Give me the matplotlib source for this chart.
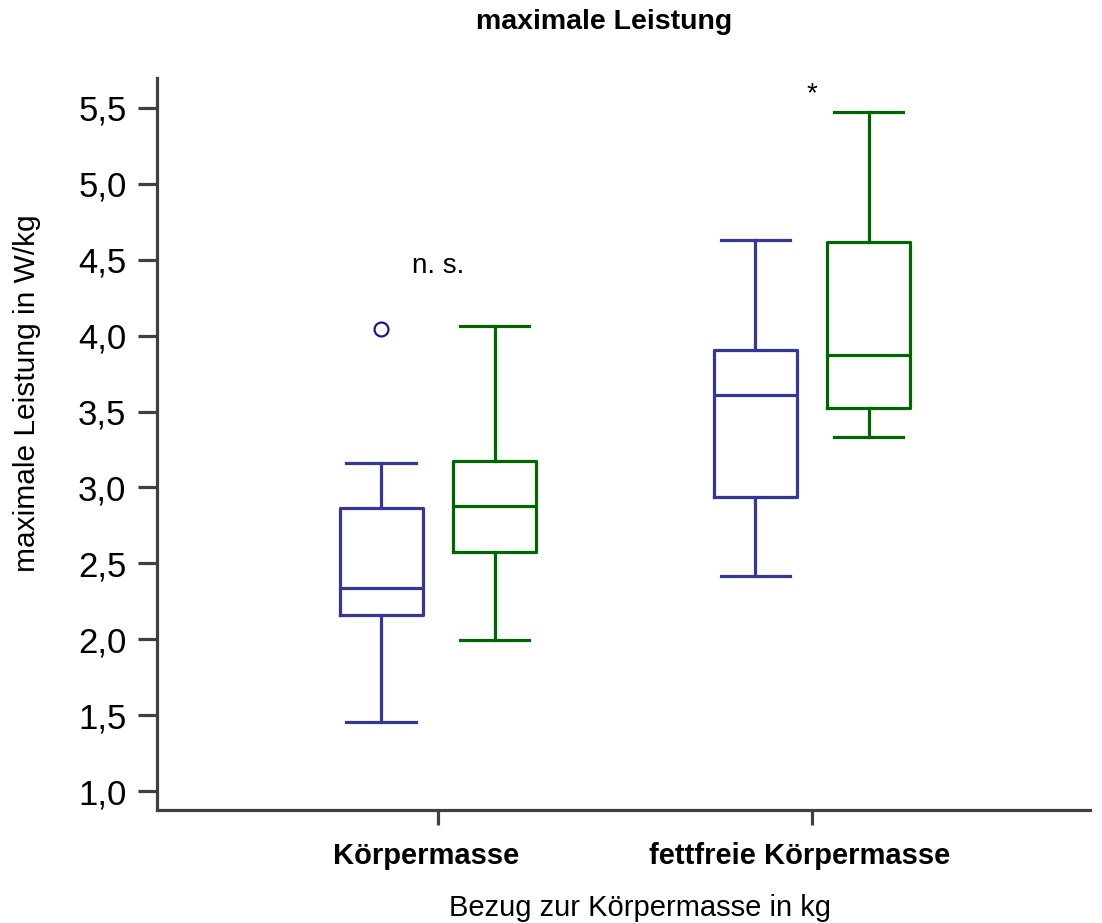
import matplotlib
matplotlib.use("Agg")
from matplotlib import pyplot as plt
from matplotlib import transforms

plt.rcParams['font.family'] = ['Liberation Sans', 'DejaVu Sans']

categories = ['Körpermasse', 'fettfreie Körpermasse']
# box stats: [whislo, q1, med, q3, whishi]
blue_stats = [[1.455, 2.159, 2.337, 2.864, 3.160],
              [2.416, 2.937, 3.609, 3.905, 4.630]]
blue_fliers = [[4.043], []]
green_stats = [[1.995, 2.574, 2.877, 3.174, 4.063],
               [3.332, 3.523, 3.872, 4.617, 5.473]]
green_fliers = [[], []]
annotations = ['n. s.', '*']
annot_y = [4.46, 5.59]
y_ticks = [1.0, 1.5, 2.0, 2.5, 3.0, 3.5, 4.0, 4.5, 5.0, 5.5]

blue = '#35359a'
green = '#006600'
spine_col = '#404040'


def make_stats(rows, fliers):
    out = []
    for r, f in zip(rows, fliers):
        out.append({'whislo': r[0], 'q1': r[1], 'med': r[2], 'q3': r[3],
                    'whishi': r[4], 'fliers': f})
    return out


fig = plt.figure(figsize=(11.02, 9.23), dpi=100)
ax = fig.add_axes([0.1425, 0.1224, 0.8465, 0.7931])

offset = 0.152
width = 0.222
lw = 2.3
for stats, fl, col, sign in [(blue_stats, blue_fliers, blue, -1),
                             (green_stats, green_fliers, green, 1)]:
    pos = [i + sign * offset for i in range(len(categories))]
    props = dict(color=col, linewidth=lw)
    ax.bxp(make_stats(stats, fl), positions=pos, widths=width,
           capwidths=0.185, boxprops=props, whiskerprops=props,
           capprops=props, medianprops=props,
           flierprops=dict(marker='o', markersize=10, markerfacecolor='none',
                           markeredgecolor='#1a1a8c', markeredgewidth=1.6),
           manage_ticks=False)

for i, txt in enumerate(annotations):
    ax.text(i, annot_y[i], txt, ha='center', va='center', fontsize=20)

ax.set_xlim(-0.751, 1.743)
ax.set_ylim(0.875, 5.697)
ax.set_xticks(range(len(categories)))
ax.set_xticklabels(categories, fontsize=21, fontweight='bold')
ax.set_yticks(y_ticks)
ax.set_yticklabels([f'{v:.1f}'.replace('.', ',') for v in y_ticks], fontsize=25)

for s in ['top', 'right']:
    ax.spines[s].set_visible(False)
for s in ['left', 'bottom']:
    ax.spines[s].set_color(spine_col)
    ax.spines[s].set_linewidth(2.3)
ax.tick_params(axis='y', length=14, width=2.3, color=spine_col, pad=8)
ax.tick_params(axis='x', length=11, width=2.3, color=spine_col, pad=12)

# labels in the reference sit a little left of their ticks
shift = transforms.ScaledTranslation(-0.12, 0, fig.dpi_scale_trans)
for tick in ax.xaxis.get_major_ticks():
    tick.label1.set_transform(tick.label1.get_transform() + shift)

ax.set_xlabel('Bezug zur Körpermasse in kg', fontsize=21, va='center')
ax.xaxis.set_label_coords(0.5177, -0.1337)
ax.set_ylabel('maximale Leistung in W/kg', fontsize=21.5, va='center')
ax.yaxis.set_label_coords(-0.1393, 0.569)
fig.text(604 / 1102, 1 - 22 / 923, 'maximale Leistung', ha='center',
         va='center', fontsize=20.5, fontweight='bold')

fig.savefig('out.png', dpi=100)
